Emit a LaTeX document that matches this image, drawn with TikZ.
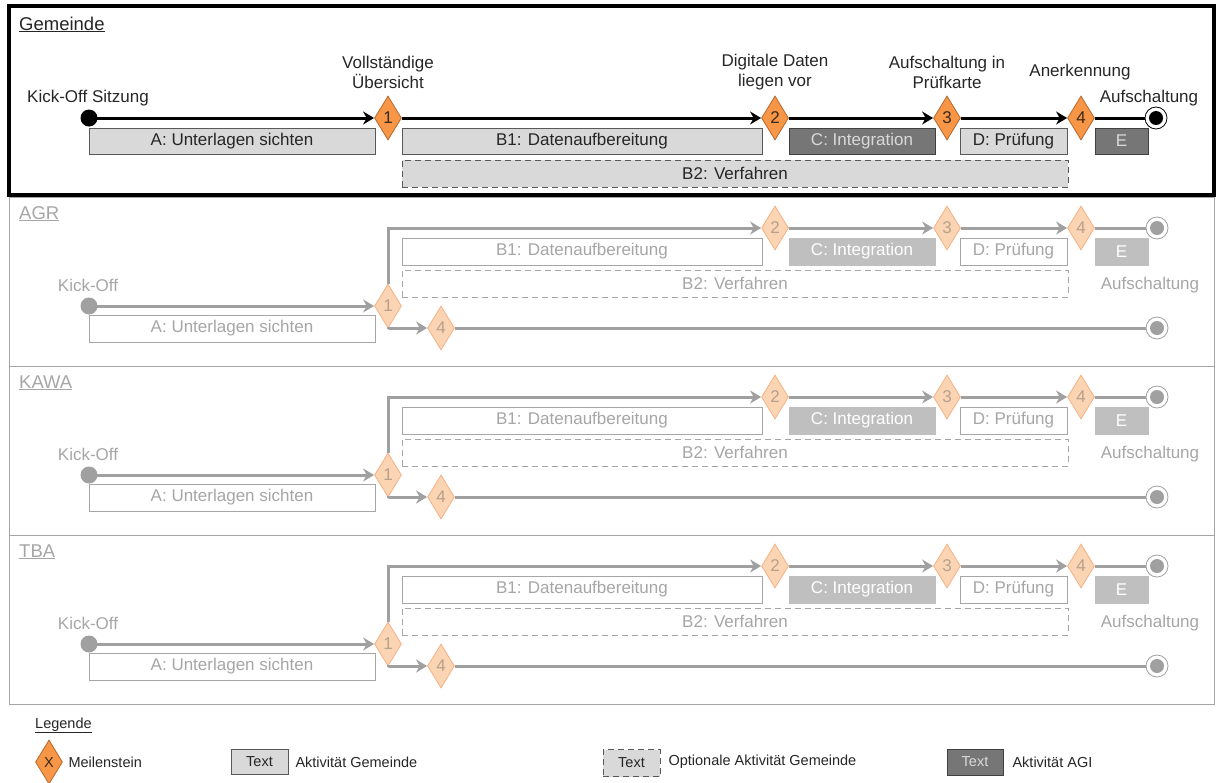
\documentclass[tikz,border=0pt]{standalone}
\usepackage{fontspec}
\setmainfont{Liberation Sans}
\usetikzlibrary{shapes.geometric,arrows.meta}
\definecolor{orF}{HTML}{F79646}
\definecolor{orB}{HTML}{B5682C}
\definecolor{orL}{HTML}{FBD4B4}
\definecolor{orLB}{HTML}{F4B183}
\definecolor{numD}{HTML}{3A2A1A}
\definecolor{numL}{HTML}{B8A08A}
\definecolor{lgF}{HTML}{D9D9D9}
\definecolor{bdD}{HTML}{595959}
\definecolor{dkF}{HTML}{767676}
\definecolor{dkB}{HTML}{404040}
\definecolor{grLine}{HTML}{A0A0A0}
\definecolor{grT}{HTML}{A6A6A6}
\definecolor{grA}{HTML}{BFBFBF}
\definecolor{txD}{HTML}{262626}
\begin{document}
\begin{tikzpicture}[x=1pt,y=-1pt,
  every node/.style={font=\fontsize{17}{20}\selectfont, text=txD},
  hdr/.style={font=\fontsize{18.5}{22}\selectfont, text=txD, inner sep=0pt},
  ghdr/.style={hdr, text=grT},
  lfont/.style={font=\fontsize{14.5}{17}\selectfont},
  lbl/.style={align=center, inner sep=0pt},
  glbl/.style={lbl, text=grT},
  ms/.style={diamond, draw=orB, fill=orF, line width=0.8pt, minimum width=27pt, minimum height=44pt, inner sep=0pt, text=numD},
  msg/.style={ms, draw=orLB, fill=orL, text=numL},
  box/.style={rectangle, minimum height=26pt, inner sep=0pt, line width=1pt},
  actG/.style={box, fill=lgF, draw=bdD, text=txD},
  actO/.style={actG, dash pattern=on 6pt off 4pt},
  actA/.style={box, fill=dkF, draw=dkB, text=lgF},
  gactG/.style={box, fill=white, draw=grT, text=grT},
  gactO/.style={gactG, dash pattern=on 6pt off 4pt},
  gactA/.style={box, fill=grA, draw=grA, text=white},
  trk/.style={line width=3pt, draw=black},
  arr/.style={trk, -{Stealth[length=11pt,width=13pt]}},
  gtrk/.style={line width=3pt, draw=grLine},
  garr/.style={gtrk, -{Stealth[length=11pt,width=13pt]}},
  startdot/.style={circle, fill=#1, minimum size=17pt, inner sep=0pt},
  endring/.style={circle, draw=#1, fill=white, line width=0.8pt, minimum size=22pt, inner sep=0pt},
  enddot/.style={circle, fill=#1, minimum size=14pt, inner sep=0pt},
  frame/.style={line width=0.8pt, draw=grT}
]
\useasboundingbox (0,0) rectangle (1222,782);

% frames
\draw[frame] (9,197) rectangle (1214,704);
\draw[frame] (9,366) -- (1214,366);
\draw[frame] (9,535) -- (1214,535);
\draw[line width=4pt] (9,6) rectangle (1214,195);

% ---------- Gemeinde ----------
\node[hdr, anchor=base west] (gem) at (19,30) {\underline{Gemeinde}};
\node[lbl] (l0) at (88,98) {Kick-Off Sitzung};
\node[lbl] (l1) at (388,72) {Vollständige\\Übersicht};
\node[lbl] (l2) at (775,72) {Digitale Daten\\liegen vor};
\node[lbl] (l3) at (947,72) {Aufschaltung in\\Prüfkarte};
\node[lbl] (l4) at (1080,72) {Anerkennung};
\node[lbl] (l5) at (1149,98) {Aufschaltung};

\node[startdot=black] (s0) at (89,118) {};
\node[ms] (m1) at (388,118) {1};
\node[ms] (m2) at (775,118) {2};
\node[ms] (m3) at (947,118) {3};
\node[ms] (m4) at (1081,118) {4};
\node[endring=black] (e0) at (1156,118) {};
\node[enddot=black] (ed0) at (1156,118) {};

\draw[arr] (s0.center) -- (m1.west);
\draw[arr] (m1.east) -- (m2.west);
\draw[arr] (m2.east) -- (m3.west);
\draw[arr] (m3.east) -- (m4.west);
\draw[trk] (m4.east) -- (e0.west);

\node[actG, minimum width=286pt] (ga) at (232,141) {A: Unterlagen sichten};
\node[actG, minimum width=360pt] (gb1) at (582,141) {B1: Datenaufbereitung};
\node[actO, minimum width=666pt, minimum height=27pt] (gb2) at (735,173.5) {B2: Verfahren};
\node[actA, minimum width=146pt] (gc) at (862,141) {C: Integration};
\node[actG, minimum width=107pt] (gd) at (1013.5,141) {D: Prüfung};
\node[actA, minimum width=53pt] (ge) at (1121.5,141) {E};

% ---------- grey sections ----------
\foreach \o/\nm in {0/AGR,169/KAWA,338/TBA}{
  \node[ghdr, anchor=base west] (h\o) at (19,{219+\o}) {\underline{\nm}};
  \node[glbl] (k\o) at (88,{285+\o}) {Kick-Off};
  \node[glbl] (au\o) at (1150,{285+\o}) {Aufschaltung};

  \node[startdot=grLine] (s\o) at (89,{306+\o}) {};
  \node[msg] (n1\o) at (388,{306+\o}) {1};
  \node[msg] (n2\o) at (775,{228+\o}) {2};
  \node[msg] (n3\o) at (947,{228+\o}) {3};
  \node[msg] (n4\o) at (1081,{228+\o}) {4};
  \node[msg] (n5\o) at (441,{328+\o}) {4};
  \node[endring=grLine] (ea\o) at (1157,{228+\o}) {};
  \node[enddot=grLine] (eda\o) at (1157,{228+\o}) {};
  \node[endring=grLine] (eb\o) at (1157,{328+\o}) {};
  \node[enddot=grLine] (edb\o) at (1157,{328+\o}) {};

  \draw[garr] (s\o.center) -- (n1\o.west);
  \draw[garr] (n1\o.north) |- (n2\o.west);
  \draw[garr] (n2\o.east) -- (n3\o.west);
  \draw[garr] (n3\o.east) -- (n4\o.west);
  \draw[gtrk] (n4\o.east) -- (ea\o.west);
  \draw[garr] (n1\o.south) |- (n5\o.west);
  \draw[gtrk] (n5\o.east) -- (eb\o.west);

  \node[gactG, minimum width=286pt, minimum height=27pt] (a\o) at (232,{328.5+\o}) {A: Unterlagen sichten};
  \node[gactG, minimum width=360pt, minimum height=27pt] (b1\o) at (582,{251.5+\o}) {B1: Datenaufbereitung};
  \node[gactO, minimum width=666pt, minimum height=27pt] (b2\o) at (735,{283.5+\o}) {B2: Verfahren};
  \node[gactA, minimum width=146pt, minimum height=27pt] (c\o) at (862,{251.5+\o}) {C: Integration};
  \node[gactG, minimum width=107pt, minimum height=27pt] (d\o) at (1013.5,{251.5+\o}) {D: Prüfung};
  \node[gactA, minimum width=53pt, minimum height=27pt] (e\o) at (1121.5,{251.5+\o}) {E};
}

% ---------- legend ----------
\node[lfont, anchor=base west, inner sep=0pt] (leg) at (35,728) {\underline{Legende}};
\node[ms, lfont] (lm) at (49,762) {X};
\node[lfont, anchor=west] (lmt) at (65,762) {Meilenstein};
\node[actG, lfont, minimum width=57pt, minimum height=25pt] (lb1) at (259.5,762) {Text};
\node[lfont, anchor=west] (lbt1) at (292,762) {Aktivität Gemeinde};
\node[actO, lfont, minimum width=57pt, minimum height=27pt] (lb2) at (631.5,763) {Text};
\node[lfont, anchor=west] (lbt2) at (665,762) {Optionale Aktivität Gemeinde};
\node[actA, lfont, minimum width=56pt, minimum height=26pt] (lb3) at (975,762) {Text};
\node[lfont, anchor=west] (lbt3) at (1009,762) {Aktivität AGI};
\end{tikzpicture}
\end{document}
